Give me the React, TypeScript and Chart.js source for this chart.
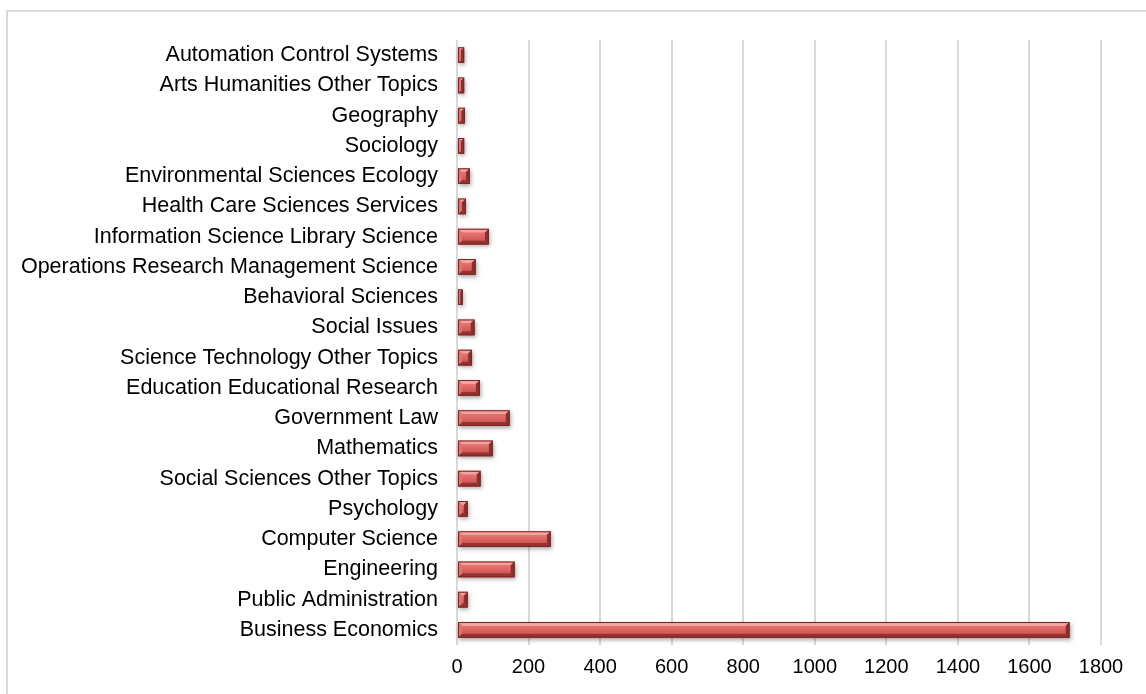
import React, { useEffect, useRef } from "react";
import { Chart, registerables } from "chart.js";

Chart.register(...registerables);

const categories = [
  "Automation Control Systems",
  "Arts Humanities Other Topics",
  "Geography",
  "Sociology",
  "Environmental Sciences Ecology",
  "Health Care Sciences Services",
  "Information Science Library Science",
  "Operations Research Management Science",
  "Behavioral Sciences",
  "Social Issues",
  "Science Technology Other Topics",
  "Education Educational Research",
  "Government Law",
  "Mathematics",
  "Social Sciences Other Topics",
  "Psychology",
  "Computer Science",
  "Engineering",
  "Public Administration",
  "Business Economics",
];

const values = [20, 20, 22, 20, 36, 25, 89, 52, 16, 49, 42, 64, 147, 100, 66, 30, 262, 161, 30, 1712];

const xMin = 0;
const xMax = 1800;
const xStep = 200;

const bevelPlugin = {
  id: "bevelBars",
  afterDatasetsDraw(chart: any) {
    const ctx = chart.ctx;
    const meta = chart.getDatasetMeta(0);
    meta.data.forEach((el: any) => {
      const p = el.getProps(["x", "y", "base", "height"], true);
      const x0 = Math.min(p.base, p.x);
      const x1 = Math.max(p.base, p.x);
      const y0 = p.y - p.height / 2;
      const y1 = p.y + p.height / 2;
      const w = x1 - x0;
      const h = y1 - y0;
      const b = Math.min(4, w / 2, h / 2);
      ctx.save();
      ctx.shadowColor = "rgba(0,0,0,0.35)";
      ctx.shadowBlur = 4;
      ctx.shadowOffsetX = 1;
      ctx.shadowOffsetY = 2;
      ctx.fillStyle = "#c9504d";
      ctx.fillRect(x0, y0, w, h);
      ctx.restore();

      const poly = (pts: number[][], color: string) => {
        ctx.beginPath();
        ctx.moveTo(pts[0][0], pts[0][1]);
        for (let i = 1; i < pts.length; i++) ctx.lineTo(pts[i][0], pts[i][1]);
        ctx.closePath();
        ctx.fillStyle = color;
        ctx.fill();
      };
      poly([[x0, y0], [x1, y0], [x1 - b, y0 + b], [x0 + b, y0 + b]], "#f4a3a1");
      poly([[x0, y1], [x1, y1], [x1 - b, y1 - b], [x0 + b, y1 - b]], "#93322f");
      poly([[x0, y0], [x0 + b, y0 + b], [x0 + b, y1 - b], [x0, y1]], "#e07471");
      poly([[x1, y0], [x1 - b, y0 + b], [x1 - b, y1 - b], [x1, y1]], "#8c2f2c");
      const g = ctx.createLinearGradient(0, y0 + b, 0, y1 - b);
      g.addColorStop(0, "#e67572");
      g.addColorStop(1, "#d05653");
      ctx.fillStyle = g;
      ctx.fillRect(x0 + b, y0 + b, Math.max(0, w - 2 * b), Math.max(0, h - 2 * b));
      ctx.strokeStyle = "#7a2624";
      ctx.lineWidth = 1;
      ctx.strokeRect(x0 + 0.5, y0 + 0.5, Math.max(0, w - 1), Math.max(0, h - 1));
    });
  },
};

const framePlugin = {
  id: "frame",
  beforeDraw(chart: any) {
    const ctx = chart.ctx;
    ctx.save();
    ctx.fillStyle = "#ffffff";
    ctx.fillRect(0, 0, chart.width, chart.height);
    ctx.strokeStyle = "#d9d9d9";
    ctx.lineWidth = 2;
    ctx.beginPath();
    ctx.moveTo(7, chart.height);
    ctx.lineTo(7, 11);
    ctx.lineTo(chart.width, 11);
    ctx.stroke();
    ctx.restore();
  },
};

export default function App() {
  const ref = useRef<HTMLCanvasElement>(null);
  useEffect(() => {
    if (!ref.current) return;
    const chart = new Chart(ref.current, {
      type: "bar",
      data: {
        labels: categories,
        datasets: [
          {
            data: values,
            backgroundColor: "rgba(0,0,0,0)",
            borderWidth: 0,
            barPercentage: 0.52,
            categoryPercentage: 1,
          },
        ],
      },
      options: {
        indexAxis: "y",
        responsive: false,
        animation: false,
        devicePixelRatio: 1,
        layout: { padding: { top: 40, right: 45, left: 0, bottom: 0 } },
        plugins: { legend: { display: false }, tooltip: { enabled: false } },
        scales: {
          x: {
            min: xMin,
            max: xMax,
            ticks: {
              stepSize: xStep,
              color: "#000",
              font: { family: "'Liberation Sans', Arial, sans-serif", size: 20 },
              padding: 10,
              maxRotation: 0,
              callback: (v: any) => String(v),
            },
            grid: { color: "#d9d9d9", lineWidth: 2, drawTicks: false },
            border: { display: false },
            afterFit(scale: any) {
              scale.height = 49;
            },
          },
          y: {
            ticks: {
              color: "#000",
              font: { family: "'Liberation Sans', Arial, sans-serif", size: 21.5 },
              padding: 19,
              autoSkip: false,
            },
            grid: { display: false, drawTicks: false },
            border: { display: false },
            afterFit(scale: any) {
              scale.width = 457;
            },
          },
        },
      },
      plugins: [framePlugin, bevelPlugin],
    } as any);
    return () => chart.destroy();
  }, []);
  return (
    <div style={{ position: "fixed", left: 0, top: 0, width: 1146, height: 694, overflow: "hidden", background: "#fff" }}>
      <canvas ref={ref} width={1146} height={694} style={{ display: "block" }} />
    </div>
  );
}
